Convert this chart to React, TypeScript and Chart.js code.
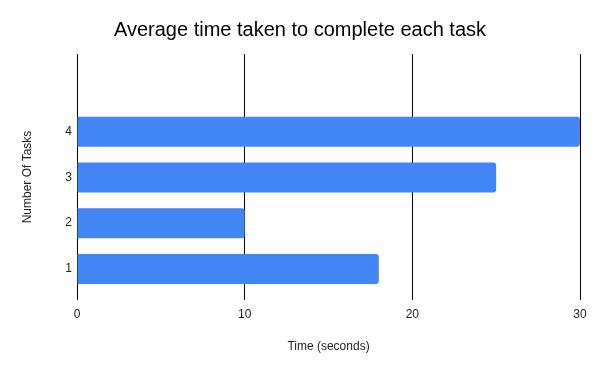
import React, { useEffect, useRef } from "react";
import { Chart, registerables } from "chart.js";

Chart.register(...registerables);

const tasks = [1, 2, 3, 4];
const avgTimes = [18, 10, 25, 30];
const xTicks = [0, 10, 20, 30];
const titleText = "Average time taken to complete each task";
const xTitle = "Time (seconds)";
const yTitle = "Number Of Tasks";

export default function App() {
  const ref = useRef<HTMLCanvasElement | null>(null);
  useEffect(() => {
    document.body.style.margin = "0";
    const ctx = ref.current!;
    const font = "'Liberation Sans', Arial, sans-serif";
    const chart = new Chart(ctx, {
      type: "bar",
      data: {
        datasets: [
          {
            data: tasks.map((t, i) => ({ x: avgTimes[i], y: t })),
            backgroundColor: "#4285F4",
            borderRadius: 3,
            barPercentage: 0.82,
            categoryPercentage: 0.8,
          },
        ],
      },
      options: {
        indexAxis: "y",
        animation: false,
        responsive: false,
        layout: { padding: 0 },
        plugins: {
          legend: { display: false },
          tooltip: { enabled: false },
          title: {
            display: true,
            text: titleText,
            color: "#000",
            font: { family: font, size: 20, weight: "normal" },
            padding: { top: 18, bottom: 12 },
          },
        },
        scales: {
          x: {
            type: "linear",
            min: 0,
            max: 30,
            afterBuildTicks: (s: any) => {
              s.ticks = xTicks.map((v) => ({ value: v }));
            },
            afterFit: (s: any) => {
              s.height = 71;
            },
            grid: { color: "#000", drawTicks: false, lineWidth: 1 },
            border: { display: false },
            ticks: { color: "#222", padding: 7, font: { family: font, size: 12 } },
            title: {
              display: true,
              text: xTitle,
              color: "#222",
              font: { family: font, size: 12 },
              padding: { top: 17, bottom: 17 },
            },
          },
          y: {
            type: "linear",
            offset: false,
            min: 0.32,
            max: 5.7,
            afterBuildTicks: (s: any) => {
              s.ticks = tasks.map((v) => ({ value: v }));
            },
            afterFit: (s: any) => {
              s.width = 77;
            },
            grid: { display: false, drawTicks: false },
            border: { display: false },
            ticks: { color: "#222", padding: 5, font: { family: font, size: 12 } },
            title: {
              display: true,
              text: yTitle,
              color: "#222",
              font: { family: font, size: 12 },
              padding: { top: 20, bottom: 20 },
            },
          },
          yRight: {
            type: "linear",
            position: "right",
            display: true,
            grid: { display: false, drawTicks: false },
            border: { display: false },
            ticks: { display: false },
            afterFit: (s: any) => {
              s.width = 20;
            },
          },
        },
      } as any,
    });
    return () => chart.destroy();
  }, []);
  return (
    <div style={{ position: "absolute", left: 0, top: 0, width: 600, height: 371, background: "#fff" }}>
      <canvas ref={ref} width={600} height={371} />
    </div>
  );
}
